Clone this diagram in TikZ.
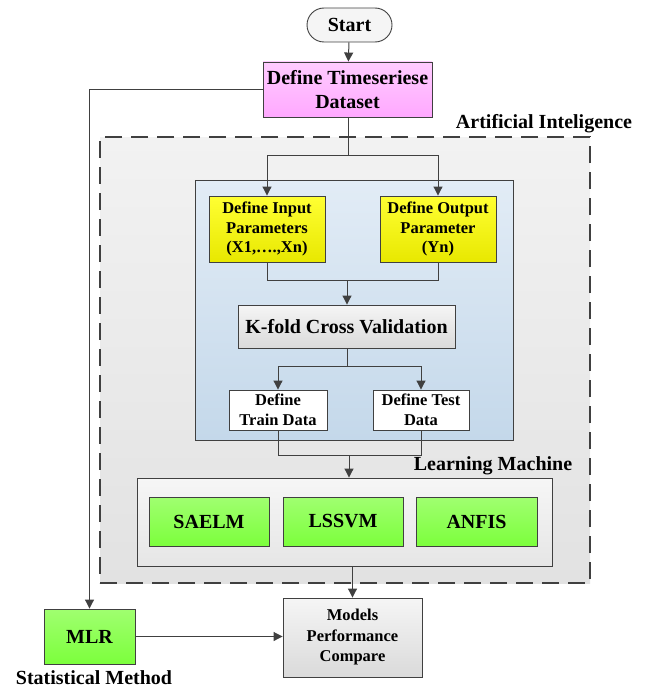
\documentclass[tikz,border=0pt]{standalone}
\usepackage{fontspec}
\setmainfont{Liberation Serif}
\usetikzlibrary{arrows.meta}
\definecolor{lnc}{HTML}{404040}
\tikzset{
  fbig/.style={font=\fontsize{20}{23.5}\selectfont\bfseries},
  fsmall/.style={font=\fontsize{16.5}{19.5}\selectfont\bfseries},
  boxbase/.style={draw=lnc, line width=0.9pt, align=center, inner sep=1pt},
  pinkbox/.style={boxbase, top color=pinkt, bottom color=pinkb},
  yellowbox/.style={boxbase, top color=yelt, bottom color=yelb},
  greenbox/.style={boxbase, top color=grnt, bottom color=grnb},
  graybox/.style={boxbase, top color=gryt, bottom color=gryb},
  whitebox/.style={boxbase, fill=white},
  conn/.style={draw=lnc, line width=1pt},
  arr/.style={conn, -{Triangle[length=9pt,width=9pt]}},
}
\definecolor{pinkt}{HTML}{FFCCFF}
\definecolor{pinkb}{HTML}{FFA8FF}
\definecolor{yelt}{HTML}{FFFF33}
\definecolor{yelb}{HTML}{E8E800}
\definecolor{grnt}{HTML}{A0FF70}
\definecolor{grnb}{HTML}{7CFF3C}
\definecolor{gryt}{HTML}{F5F5F5}
\definecolor{gryb}{HTML}{DADADA}
\definecolor{bluet}{HTML}{E2ECF6}
\definecolor{blueb}{HTML}{C4D8EA}
\definecolor{outt}{HTML}{F2F2F2}
\definecolor{outb}{HTML}{E2E2E2}
\definecolor{lrnt}{HTML}{F6F6F6}
\definecolor{lrnb}{HTML}{E6E6E6}
\begin{document}
\begin{tikzpicture}[x=1pt,y=-1pt]
\useasboundingbox (0,0) rectangle (646,693);
% containers
\node[draw=lnc, line width=1.2pt, dash pattern=on 17pt off 9pt, top color=outt, bottom color=outb,
      minimum width=490pt, minimum height=446pt, inner sep=0pt] (ai) at (345,360) {};
\node[draw=lnc, line width=0.9pt, top color=bluet, bottom color=blueb,
      minimum width=318pt, minimum height=260pt, inner sep=0pt] (blue) at (354,310) {};
\node[draw=lnc, line width=0.9pt, top color=lrnt, bottom color=lrnb,
      minimum width=415pt, minimum height=88pt, inner sep=0pt] (learn) at (344.5,522) {};
% nodes
\node[boxbase, fill=gryt, rounded corners=17pt, minimum width=85pt, minimum height=34pt, fbig] (start) at (349.5,25) {Start};
\node[pinkbox, minimum width=169pt, minimum height=55pt, fbig] (data) at (347.5,89.5) {Define Timeseriese\\Dataset};
\node[yellowbox, minimum width=116pt, minimum height=66pt, fsmall] (inp) at (267,229) {Define Input\\Parameters\\(X1,….,Xn)};
\node[yellowbox, minimum width=116pt, minimum height=66pt, fsmall] (out) at (438,229) {Define Output\\Parameter\\(Yn)};
\node[graybox, minimum width=217pt, minimum height=43pt, fbig] (kfold) at (346.5,326.5) {K-fold Cross Validation};
\node[whitebox, minimum width=98pt, minimum height=40pt, fsmall] (train) at (278,410) {Define\\Train Data};
\node[whitebox, minimum width=96pt, minimum height=40pt, fsmall] (test) at (421,410) {Define Test\\Data};
\node[greenbox, minimum width=120pt, minimum height=49pt, fbig] (saelm) at (209,521.5) {SAELM};
\node[greenbox, minimum width=120pt, minimum height=49pt, fbig] (lssvm) at (343,521.5) {LSSVM};
\node[greenbox, minimum width=121pt, minimum height=49pt, fbig] (anfis) at (476.5,521.5) {ANFIS};
\node[graybox, minimum width=139pt, minimum height=79pt, fsmall, font=\fontsize{16.5}{20.5}\selectfont\bfseries] (models) at (352.5,637.5) {Models\\Performance\\Compare};
\node[greenbox, minimum width=91pt, minimum height=55pt, fbig] (mlr) at (89.5,636.5) {MLR};
% labels
\node[fbig, inner sep=0pt] (lai) at (544,124) {Artificial Inteligence};
\node[fbig, inner sep=0pt] (llm) at (493,466) {Learning Machine};
\node[fbig, inner sep=0pt] (lsm) at (94,678) {Statistical Method};
% coordinates
\coordinate (s1) at (348,155);
\coordinate (m1) at (347,280);
\coordinate (s2) at (347,366);
\coordinate (m2) at (349,455);
% connectors
\draw[arr] (start) -- (data);
\draw[conn] (data.south -| s1) -- (s1);
\draw[arr] (s1) -| (inp.north);
\draw[arr] (s1) -| (out.north);
\draw[conn] (inp.south) |- (m1);
\draw[conn] (out.south) |- (m1);
\draw[arr] (m1) -- (m1 |- kfold.north);
\draw[conn] (kfold.south -| s2) -- (s2);
\draw[arr] (s2) -| (train.north);
\draw[arr] (s2) -| (test.north);
\draw[conn] (train.south) |- (m2);
\draw[conn] (test.south) |- (m2);
\draw[arr] (m2) -- (m2 |- learn.north);
\draw[arr] (models.north |- learn.south) -- (models.north);
\draw[arr] (data.west) -| (mlr.north);
\draw[arr] (mlr.east) -- (mlr.east -| models.west);
\end{tikzpicture}
\end{document}
